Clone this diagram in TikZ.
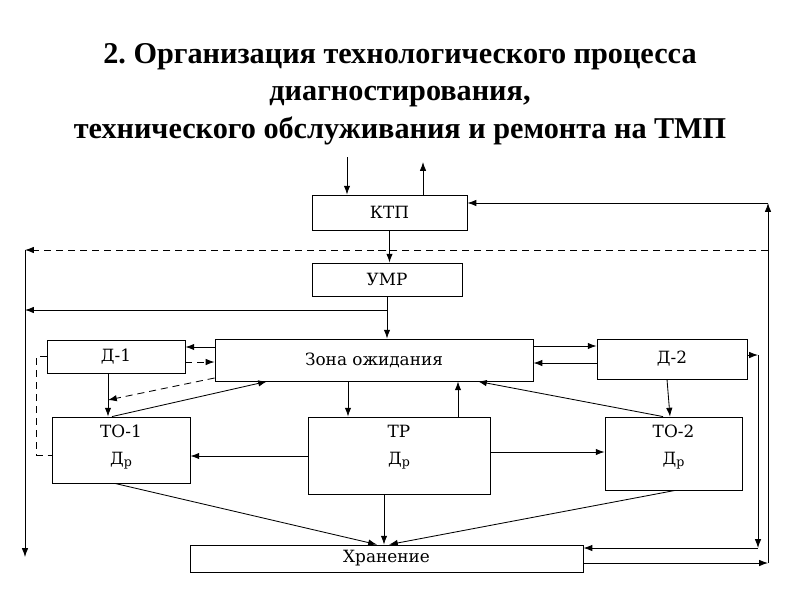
\documentclass[tikz,border=0pt]{standalone}
\usepackage{fontspec}
\setmainfont{DejaVu Serif}
\newfontfamily\titlefont{Liberation Serif}[BoldFont={Liberation Serif Bold}]
\usetikzlibrary{arrows.meta}
\usetikzlibrary{positioning}
\tikzset{>={Latex[length=2.2mm,width=1.6mm]},
  box/.style={draw, line width=0.6pt, inner sep=0pt,
    font=\fontsize{12}{14}\selectfont},
  twoline/.style={box, label={[align=center, anchor=north, inner sep=6pt,
    font=\fontsize{12}{19}\selectfont]north:#1}},
  link/.style={->, line width=0.6pt},
  dlink/.style={link, dash pattern=on 5pt off 3.5pt}}
\newcommand{\dr}{Д\raisebox{-0.25ex}{\small р}}

\begin{document}
\begin{tikzpicture}[x=0.025cm, y=-0.025cm]
    \useasboundingbox (0,0) rectangle (800,600);

    \node (title) [align=center, font=\fontsize{21.5}{26.5}\selectfont\titlefont\bfseries]
      at (400,94) {2.\ Организация технологического процесса\\диагностирования,\\технического обслуживания и ремонта на ТМП};

    \node (ktp) [box, minimum width=3.875cm, minimum height=0.875cm] at (389.5,212.5) {КТП};
    \node (umr) [box, minimum width=3.75cm, minimum height=0.825cm] at (387,279.5) {УМР};
    \node (zona) [box, minimum width=7.95cm, minimum height=1.05cm] at (374,360) {Зона ожидания};
    \node (d1) [box, minimum width=3.45cm, minimum height=0.825cm] at (116,356.5) {Д-1};
    \node (d2) [box, minimum width=3.75cm, minimum height=1cm] at (672,359) {Д-2};
    \node (to1) [twoline={ТО-1\\\dr}, minimum width=3.45cm, minimum height=1.65cm] at (121,450) {};
    \node (tr) [twoline={ТР\\\dr}, minimum width=4.55cm, minimum height=1.925cm] at (399,455.5) {};
    \node (to2) [twoline={ТО-2\\\dr}, minimum width=3.425cm, minimum height=1.825cm] at (673.5,453.5) {};
    \node (hran) [box, minimum width=9.825cm, minimum height=0.675cm] at (386.5,558.5) {Хранение};

    % КТП in / out
    \coordinate (in) at (347,157);
    \coordinate (out) at (423,162);
    \draw[link] (in) -- (in |- ktp.north);
    \draw[link] (out |- ktp.north) -- (out);
    \draw[link] (ktp.south) -- (ktp.south |- umr.north);

    % outer loops
    \coordinate (r1) at (768,563);
    \coordinate (r2) at (768,203);
    \coordinate (l1) at (25,250);
    \coordinate (l2) at (25,557);
    \draw[link] (hran.east |- r1) -- (r1);
    \draw[link] (r1) -- (r2);
    \draw[link] (r2) -- (r2 -| ktp.east);
    \draw[dlink] (r1 |- l1) -- (l1);
    \draw[link] (l1) -- (l2);

    % УМР
    \coordinate (u1) at (387,310);
    \draw[link] (umr.south) -- (umr.south |- zona.north);
    \draw[link] (umr.south |- u1) -- (l1 |- u1);

    % Д-1 and ТО-1
    \coordinate (d1to) at (108,400);
    \draw[link] (zona.west |- 0,347) -- (d1.east |- 0,347);
    \draw[dlink] (d1.east |- 0,362) -- (zona.west |- 0,362);
    \draw[link] (d1.south -| 108,0) -- (to1.north -| 108,0);
    \draw[dlink] (zona.west |- 0,378) -- (d1to);
    \draw[link] (to1.north -| 112,0) -- (zona.south -| 267,0);
    \draw[dash pattern=on 5pt off 3.5pt, line width=0.6pt] (d1.west) -- ++(-10,0) |- (to1.west |- 0,455);

    % ТР
    \draw[link] (zona.south -| 348,0) -- (tr.north -| 348,0);
    \draw[link] (tr.north -| 458,0) -- (zona.south -| 458,0);
    \draw[link] (tr.west |- 0,456) -- (to1.east |- 0,456);
    \draw[link] (tr.east |- 0,452) -- (to2.west |- 0,452);

    % Д-2 and ТО-2
    \coordinate (r4) at (758,355);
    \coordinate (r5) at (758,548);
    \draw[link] (to2.north -| 663,0) -- (zona.south -| 478,0);
    \draw[link] (zona.east |- 0,346) -- (d2.west |- 0,346);
    \draw[link] (d2.west |- 0,363) -- (zona.east |- 0,363);
    \draw[link] (d2.south -| 667,0) -- (to2.north -| 670,0);
    \draw[link] (d2.east |- r4) -- (r4);
    \draw[link] (r4) -- (r5);
    \draw[link] (r5) -- (r5 -| hran.east);

    % to Хранение
    \draw[link] (to1.south -| 115,0) -- (hran.north -| 377,0);
    \draw[link] (tr.south -| 384,0) -- (hran.north -| 384,0);
    \draw[link] (to2.south -| 675,0) -- (hran.north -| 389,0);
\end{tikzpicture}
\end{document}
